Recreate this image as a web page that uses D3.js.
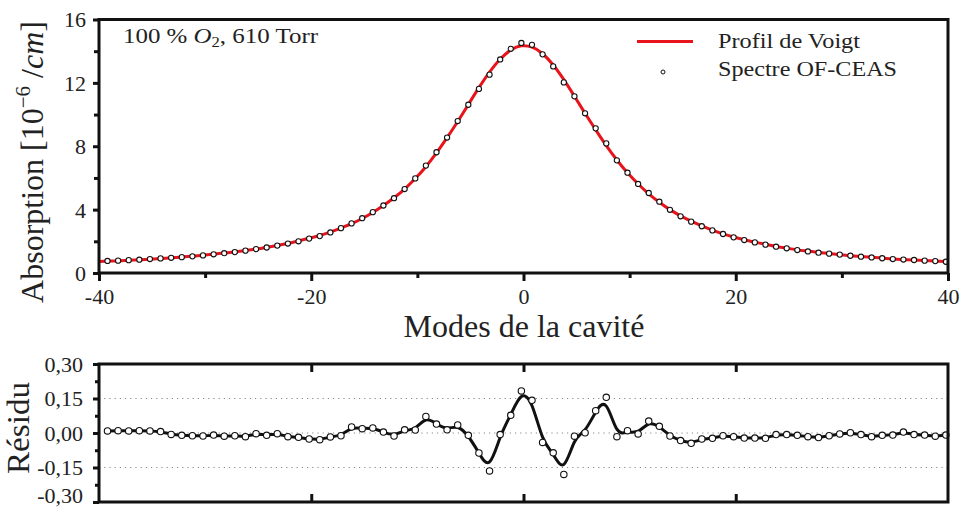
<!DOCTYPE html>
<html><head><meta charset="utf-8">
<script src="https://cdn.jsdelivr.net/npm/d3@7"></script>
<style>
html,body{margin:0;padding:0;background:#fff;}
svg{display:block;}
</style></head>
<body>
<svg id="chart" width="960" height="510"></svg>
<script>
// ---- DATA ----
const modes = [-39.2,-38.2,-37.2,-36.2,-35.2,-34.2,-33.2,-32.2,-31.2,-30.2,
  -29.2,-28.2,-27.2,-26.2,-25.2,-24.2,-23.2,-22.2,-21.2,-20.2,
  -19.2,-18.2,-17.2,-16.2,-15.2,-14.2,-13.2,-12.2,-11.2,-10.2,
  -9.2,-8.2,-7.2,-6.2,-5.2,-4.2,-3.2,-2.2,-1.2,-0.2,
  0.8,1.8,2.8,3.8,4.8,5.8,6.8,7.8,8.8,9.8,
  10.8,11.8,12.8,13.8,14.8,15.8,16.8,17.8,18.8,19.8,
  20.8,21.8,22.8,23.8,24.8,25.8,26.8,27.8,28.8,29.8,
  30.8,31.8,32.8,33.8,34.8,35.8,36.8,37.8,38.8,39.8];
const spectre = [0.76,0.78,0.81,0.84,0.88,0.92,0.96,1.00,1.05,1.11,
  1.18,1.25,1.32,1.41,1.51,1.61,1.73,1.86,2.00,2.17,
  2.33,2.56,2.83,3.13,3.46,3.84,4.26,4.72,5.30,5.97,
  6.78,7.62,8.55,9.59,10.62,11.62,12.52,13.48,14.15,14.52,
  14.40,13.80,13.04,12.03,11.15,10.08,9.13,8.18,7.11,6.33,
  5.62,5.05,4.50,3.99,3.58,3.24,2.95,2.69,2.46,2.25,
  2.08,1.93,1.79,1.66,1.56,1.45,1.36,1.28,1.22,1.16,
  1.09,1.03,0.98,0.93,0.88,0.85,0.82,0.78,0.75,0.71];
const voigtModes = [-40,-39.2,-38.2,-37.2,-36.2,-35.2,-34.2,-33.2,-32.2,-31.2,-30.2,
  -29.2,-28.2,-27.2,-26.2,-25.2,-24.2,-23.2,-22.2,-21.2,-20.2,
  -19.2,-18.2,-17.2,-16.2,-15.2,-14.2,-13.2,-12.2,-11.2,-10.2,
  -9.2,-8.2,-7.2,-6.2,-5.2,-4.2,-3.2,-2.2,-1.2,-0.2,
  0.8,1.8,2.8,3.8,4.8,5.8,6.8,7.8,8.8,9.8,
  10.8,11.8,12.8,13.8,14.8,15.8,16.8,17.8,18.8,19.8,
  20.8,21.8,22.8,23.8,24.8,25.8,26.8,27.8,28.8,29.8,
  30.8,31.8,32.8,33.8,34.8,35.8,36.8,37.8,38.8,39.8,40];
const voigt = [0.73,0.75,0.77,0.80,0.83,0.87,0.91,0.96,1.01,1.06,1.12,
  1.19,1.26,1.33,1.42,1.51,1.62,1.73,1.87,2.02,2.19,
  2.37,2.58,2.84,3.11,3.44,3.82,4.26,4.75,5.30,5.96,
  6.71,7.58,8.54,9.56,10.63,11.70,12.68,13.49,14.07,14.34,
  14.26,13.84,13.13,12.21,11.16,10.08,9.04,8.04,7.13,6.32,
  5.62,5.00,4.47,4.00,3.61,3.28,2.98,2.71,2.47,2.27,
  2.10,1.95,1.81,1.67,1.57,1.46,1.38,1.30,1.23,1.16,
  1.09,1.04,0.99,0.94,0.89,0.85,0.82,0.79,0.76,0.72,0.71];
const residu = [0.009,0.010,0.009,0.010,0.009,0.006,-0.006,-0.010,-0.012,-0.013,
  -0.009,-0.014,-0.012,-0.016,-0.003,-0.010,-0.003,-0.016,-0.019,-0.026,
  -0.029,-0.017,-0.012,0.026,0.019,0.022,0.004,-0.013,0.014,0.013,
  0.072,0.039,0.014,0.035,-0.010,-0.087,-0.165,-0.007,0.077,0.183,
  0.142,-0.041,-0.086,-0.180,-0.014,0.001,0.097,0.155,-0.016,0.010,
  -0.004,0.052,0.029,-0.013,-0.033,-0.045,-0.026,-0.023,-0.012,-0.016,
  -0.022,-0.022,-0.023,-0.007,-0.007,-0.010,-0.016,-0.020,-0.012,-0.004,
  0.001,-0.007,-0.016,-0.010,-0.009,0.004,-0.007,-0.009,-0.014,-0.009];
const xTicks = [-40,-20,0,20,40];
const xMinorTicks = [-30,-10,10,30];
const yTicks = [0,4,8,12,16];
const yMinorTicks = [2,6,10,14];
const rTicks = [-0.30,-0.15,0,0.15,0.30];
const rTickLabels = ["-0,30","-0,15","0,00","0,15","0,30"];
const rMinorTicks = [-0.225,-0.075,0.075,0.225];
const rGrid = [-0.15,0,0.15];
const legendLabels = ["Profil de Voigt","Spectre OF-CEAS"];

// ---- LAYOUT ----
const svg = d3.select("#chart");
const FONT = "'Liberation Serif','Times New Roman',serif";
const L = 99, R = 948;
const top1 = 19.5, bot1 = 273;
const top2 = 364, bot2 = 502;
const RED = "#e8141c";

const x = d3.scaleLinear().domain([-40,40]).range([L,R]);
const y = d3.scaleLinear().domain([0,16]).range([bot1,top1]);
const yr = d3.scaleLinear().domain([-0.30,0.30]).range([bot2,top2]);

function styleAxis(g, fs){
  g.select(".domain").remove();
  g.selectAll("line").attr("stroke","#111").attr("stroke-width",3);
  g.selectAll("text").attr("font-family",FONT).attr("font-size",fs).attr("fill","#222");
}

// ---- TOP PANEL ----
const pts = modes.map((m,i)=>({m, v:spectre[i]}));
const fit = voigtModes.map((m,i)=>({m, v:voigt[i]}));

svg.append("path").datum(fit)
  .attr("d", d3.line().x(d=>x(d.m)).y(d=>y(d.v)).curve(d3.curveCatmullRom))
  .attr("fill","none").attr("stroke",RED).attr("stroke-width",3);

svg.append("g").selectAll("circle").data(pts).join("circle")
  .attr("cx",d=>x(d.m)).attr("cy",d=>y(d.v)).attr("r",2.6)
  .attr("fill","#fff").attr("stroke","#111").attr("stroke-width",1.1);

// axes top
const gx1 = svg.append("g").attr("transform",`translate(0,${bot1})`)
  .call(d3.axisBottom(x).tickValues(xTicks).tickSize(8).tickPadding(7).tickFormat(d=>d));
styleAxis(gx1, 22);
const gx1m = svg.append("g").attr("transform",`translate(0,${bot1})`)
  .call(d3.axisBottom(x).tickValues(xMinorTicks).tickSize(5).tickFormat(""));
styleAxis(gx1m, 22);
const gy1 = svg.append("g").attr("transform",`translate(${L},0)`)
  .call(d3.axisLeft(y).tickValues(yTicks).tickSize(6).tickPadding(7).tickFormat(d=>d));
styleAxis(gy1, 22);
gy1.selectAll("text").attr("dy","0.34em");
const gy1m = svg.append("g").attr("transform",`translate(${L},0)`)
  .call(d3.axisLeft(y).tickValues(yMinorTicks).tickSize(5).tickFormat(""));
styleAxis(gy1m, 22);

// frame top
svg.append("path").attr("d",`M${L},${bot1}H${R}V${top1}H${L}V${bot1}`)
  .attr("fill","none").attr("stroke","#111").attr("stroke-width",3);

// annotation
const ann = svg.append("text").attr("x",123).attr("y",43)
  .attr("font-family",FONT).attr("font-size",21).attr("fill","#222")
  .attr("textLength",195).attr("lengthAdjust","spacingAndGlyphs");
ann.append("tspan").text("100 % ");
ann.append("tspan").attr("font-style","italic").text("O");
ann.append("tspan").attr("font-size",14).attr("dy",4).text("2");
ann.append("tspan").attr("dy",-4).text(", 610 Torr");

// legend
svg.append("line").attr("x1",637).attr("x2",693).attr("y1",41.5).attr("y2",41.5)
  .attr("stroke",RED).attr("stroke-width",3);
svg.append("circle").attr("cx",663).attr("cy",72).attr("r",2)
  .attr("fill","#fff").attr("stroke","#111").attr("stroke-width",1);
const legLen = [142,179];
svg.selectAll("text.leg").data(legendLabels).join("text").attr("class","leg")
  .attr("x",718).attr("y",(d,i)=>47.5+i*28)
  .attr("font-family",FONT).attr("font-size",21).attr("fill","#222")
  .attr("textLength",(d,i)=>legLen[i]).attr("lengthAdjust","spacingAndGlyphs")
  .text(d=>d);

// axis titles top
const yt = svg.append("text")
  .attr("transform","translate(43,162) rotate(-90)")
  .attr("text-anchor","middle")
  .attr("font-family",FONT).attr("font-size",32).attr("fill","#222");
yt.append("tspan").text("Absorption [10");
yt.append("tspan").attr("font-size",21).attr("dy",-13).text("\u22126");
yt.append("tspan").attr("dy",13).text(" /");
yt.append("tspan").attr("font-style","italic").text("cm");
yt.append("tspan").text("]");

svg.append("text").attr("x",524).attr("y",337).attr("text-anchor","middle")
  .attr("font-family",FONT).attr("font-size",32).attr("fill","#222")
  .text("Modes de la cavité");

// ---- BOTTOM PANEL ----
svg.append("g").selectAll("line").data(rGrid).join("line")
  .attr("x1",L).attr("x2",R).attr("y1",d=>yr(d)).attr("y2",d=>yr(d))
  .attr("stroke","#888").attr("stroke-width",1).attr("stroke-dasharray","1.2,4");

const rpts = modes.map((m,i)=>({m, v:residu[i]}));
svg.append("path").datum(rpts)
  .attr("d", d3.line().x(d=>x(d.m)).y(d=>yr(d.v)).curve(d3.curveBasis))
  .attr("fill","none").attr("stroke","#111").attr("stroke-width",3);
svg.append("g").selectAll("circle").data(rpts).join("circle")
  .attr("cx",d=>x(d.m)).attr("cy",d=>yr(d.v)).attr("r",3.2)
  .attr("fill","#fff").attr("stroke","#111").attr("stroke-width",1.1);

const gy2 = svg.append("g").attr("transform",`translate(${L},0)`)
  .call(d3.axisLeft(yr).tickValues(rTicks).tickSize(6).tickPadding(10)
    .tickFormat((d,i)=>rTickLabels[i]));
styleAxis(gy2, 22);
gy2.selectAll("text").attr("dy",(d)=> d < -0.2 ? "0.02em" : "0.34em");
const gy2m = svg.append("g").attr("transform",`translate(${L},0)`)
  .call(d3.axisLeft(yr).tickValues(rMinorTicks).tickSize(4).tickFormat(""));
styleAxis(gy2m, 22);
const gx2t = svg.append("g").attr("transform",`translate(0,${top2})`)
  .call(d3.axisBottom(x).tickValues([-20,0,20]).tickSize(8).tickFormat(""));
styleAxis(gx2t, 22);
const gx2b = svg.append("g").attr("transform",`translate(0,${bot2})`)
  .call(d3.axisTop(x).tickValues([-20,0,20]).tickSize(8).tickFormat(""));
styleAxis(gx2b, 22);

svg.append("path").attr("d",`M${L},${bot2}H${R}V${top2}H${L}V${bot2}`)
  .attr("fill","none").attr("stroke","#111").attr("stroke-width",3);

svg.append("text").attr("transform","translate(29,428) rotate(-90)")
  .attr("text-anchor","middle")
  .attr("font-family",FONT).attr("font-size",32).attr("fill","#222")
  .attr("textLength",92).attr("lengthAdjust","spacingAndGlyphs")
  .text("Résidu");
</script>
</body></html>
